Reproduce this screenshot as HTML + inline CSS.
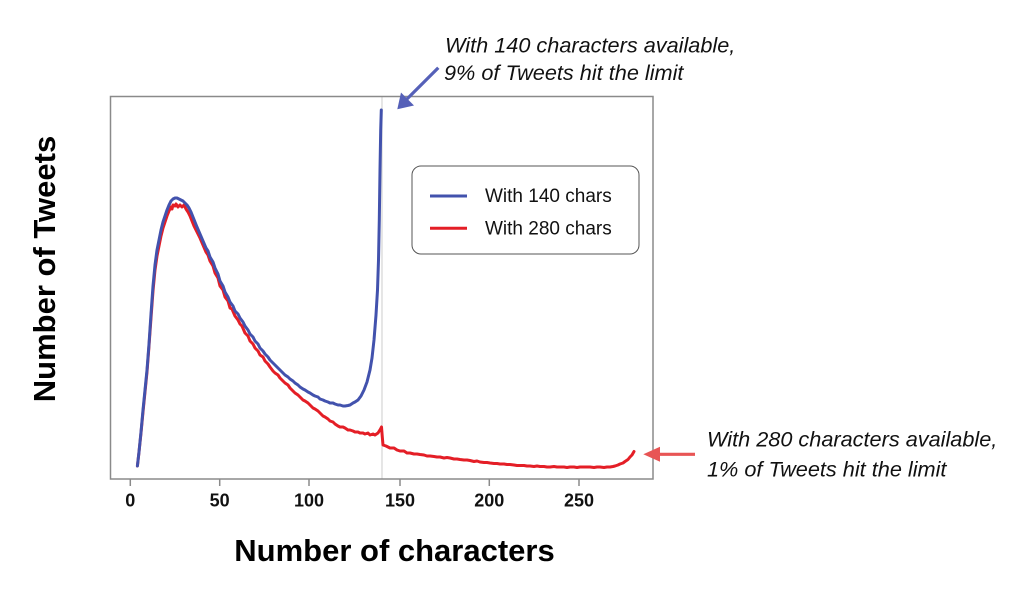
<!DOCTYPE html>
<html>
<head>
<meta charset="utf-8">
<style>
  html, body { margin:0; padding:0; background:#fff; }
  svg { display:block; }
  text { font-family: "Liberation Sans", Arial, sans-serif; }
</style>
</head>
<body>
<svg width="1024" height="614" viewBox="0 0 1024 614" xmlns="http://www.w3.org/2000/svg">
  <rect x="0" y="0" width="1024" height="614" fill="#fff"/>

  <!-- vertical reference line at 140 -->
  <line x1="382" y1="96" x2="382" y2="479" stroke="#d4d4d4" stroke-width="1.2"/>

  <!-- plot frame -->
  <rect x="110.5" y="96.5" width="542.5" height="382.5" fill="none" stroke="#8a8a8a" stroke-width="1.5"/>

  <!-- x ticks -->
  <g stroke="#8a8a8a" stroke-width="1.5">
    <line x1="130.3" y1="479" x2="130.3" y2="486"/>
    <line x1="219.7" y1="479" x2="219.7" y2="486"/>
    <line x1="309" y1="479" x2="309" y2="486"/>
    <line x1="400" y1="479" x2="400" y2="486"/>
    <line x1="489.3" y1="479" x2="489.3" y2="486"/>
    <line x1="579" y1="479" x2="579" y2="486"/>
  </g>
  <g font-size="18" font-weight="bold" fill="#111" text-anchor="middle">
    <text x="130.3" y="506.5">0</text>
    <text x="219.7" y="506.5">50</text>
    <text x="309" y="506.5">100</text>
    <text x="400" y="506.5">150</text>
    <text x="489.3" y="506.5">200</text>
    <text x="579" y="506.5">250</text>
  </g>

  <!-- axis titles -->
  <text x="394.5" y="561" font-size="31" font-weight="bold" fill="#000" text-anchor="middle">Number of characters</text>
  <text transform="translate(55,269) rotate(-90)" font-size="31" font-weight="bold" fill="#000" text-anchor="middle">Number of Tweets</text>

  <!-- red series -->
  <polyline fill="none" stroke="#e41e26" stroke-width="3" stroke-linejoin="round" stroke-linecap="round"
    points="137.4,466 139,452 141,433 143,412 145,392 147,372 149,346 151,318 153,291 155,270 157,256 159,246 161,236 163,228 165,222 167,216 169,211 171,207 172,209 173,205 175,206 176,204 178,207 180,205 182,207 184,205 186,209 188,212 190,216 192,221 194,226 197,232 200,238 203,245 206,252 208,255 210,261 213,266 215,273 218,278 220,286 223,290 225,297 228,301 230,308 232,309 235,316 238,320 240,324 242,326 245,333 248,336 250,341 253,344 255,348 258,351 260,355 263,357 265,361 268,364 270,367 273,371 275,373 278,375 280,378 283,381 285,383 288,385 290,388 293,391 295,393 298,395 300,397 303,400 305,401 308,403 310,405 313,408 315,409 318,411 320,413 323,416 325,417 328,419 330,421 333,422 335,424 338,426 340,427 343,427 345,428 348,430 350,430 353,431 355,432 358,432 360,433 363,433 365,434 368,433 370,435 373,434 375,435 378,433 380.5,429 381.5,427 382.3,437 383,445 386,446 390,448 394,448 397,450 400,451 404,451 407,453 410,453 414,454 417,454 420,454.5 424,455 427,456 430,456 434,456.5 437,457 440,457 444,458 447,457.5 450,458 454,459 457,459 460,459.5 464,460 467,460 470,460.5 474,461.5 477,461 480,462 484,462.5 487,462.5 490,463 494,463.5 497,463.5 500,464 504,464 507,464.5 510,464.5 514,465 517,465.5 520,465.5 524,465.5 527,466 530,466 534,466.5 537,466 540,466.5 544,466.5 547,467 550,467 554,466.5 557,467 560,467 564,467 567,467.5 570,467 574,467 577,467.5 580,467 584,467 587,467 590,467 594,467.5 597,467 600,467 604,467.5 607,467 610,467 613,466.5 615,466 618,465 620,464 623,463 625,461.5 628,459.5 630,457 632,455 634,451.5"/>

  <!-- blue series -->
  <polyline fill="none" stroke="#4252ad" stroke-width="3" stroke-linejoin="round" stroke-linecap="round"
    points="137.4,466 139,452 141,432 143,410 145,390 147,370 149,344 151,314 153,286 155,265 157,250 159,240 161,230 163,222 165,216 167,210 169,205 171,201 173,199 175,198 177,198 179,199 181,200 183,201 185,203 187,205 189,208 191,212 193,217 195,222 197,227 200,234 203,241 206,248 208,251 210,257 213,262 215,268 218,274 220,281 223,286 225,292 228,297 230,302 233,306 235,311 238,314 240,318 243,322 245,326 248,330 250,334 253,337 255,341 258,344 260,348 263,351 265,354 268,357 270,360 273,363 275,365 278,368 280,370 283,373 285,375 288,377 290,379 293,381 295,383 298,385 300,387 303,389 305,390 308,392 310,393 313,395 315,396 318,397 320,399 323,400 325,401 328,402 330,403 333,403 335,404 338,405 340,405 343,406 345,406 348,405.5 350,405 353,403 355,402 358,400 361,396 364,390 367,382 370,370 372,358 374,340 376,315 377.5,290 378.5,260 379.3,220 380,170 380.7,130 381.3,110"/>

  <!-- legend -->
  <rect x="412" y="166" width="227" height="88" rx="9" ry="9" fill="#fff" stroke="#555" stroke-width="1"/>
  <line x1="430" y1="196" x2="467" y2="196" stroke="#4252ad" stroke-width="3"/>
  <line x1="430" y1="228.3" x2="467" y2="228.3" stroke="#e41e26" stroke-width="3"/>
  <text x="485" y="202" font-size="19" fill="#111">With 140 chars</text>
  <text x="485" y="234.3" font-size="19" fill="#111">With 280 chars</text>

  <!-- top annotation -->
  <g font-size="21.7" font-style="italic" fill="#111">
    <text x="445" y="52.3">With 140 characters available,</text>
    <text x="444" y="80">9% of Tweets hit the limit</text>
  </g>
  <!-- blue arrow -->
  <line x1="438.3" y1="67.7" x2="406" y2="100" stroke="#5560b8" stroke-width="3.2"/>
  <polygon points="397.3,109.3 401,92.5 414,105.5" fill="#5560b8"/>

  <!-- right annotation -->
  <g font-size="21.7" font-style="italic" fill="#111">
    <text x="707" y="446.7">With 280 characters available,</text>
    <text x="707" y="476.7">1% of Tweets hit the limit</text>
  </g>
  <!-- red arrow -->
  <line x1="695" y1="454.3" x2="656" y2="454.3" stroke="#e85555" stroke-width="3.2"/>
  <polygon points="643.3,454.3 660,446.8 660,461.8" fill="#e85555"/>
</svg>
</body>
</html>
